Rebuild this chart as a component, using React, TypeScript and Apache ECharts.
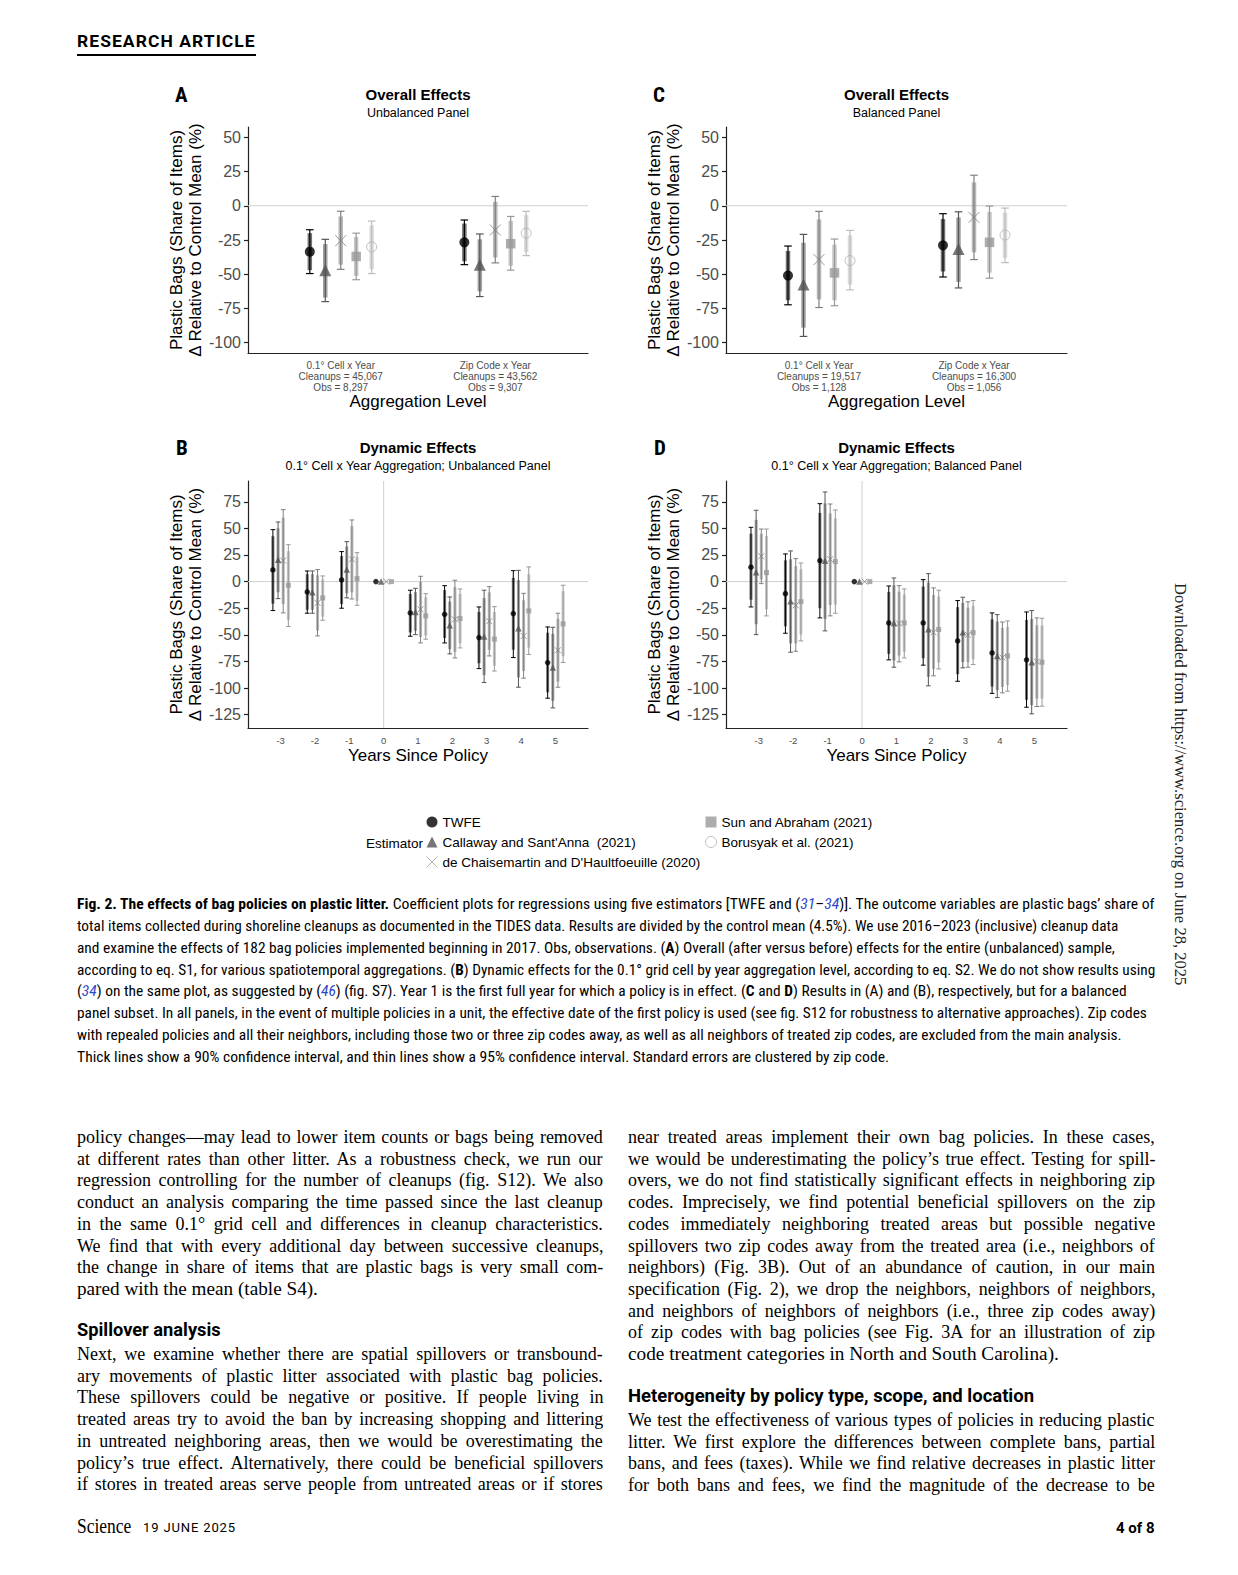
import React, { useEffect, useLayoutEffect, useRef } from 'react';
import * as echarts from 'echarts';

// ---------------- DATA ----------------
const estimatorNames = [
  'TWFE',
  "Callaway and Sant'Anna  (2021)",
  "de Chaisemartin and D'Haultfoeuille (2020)",
  'Sun and Abraham (2021)',
  'Borusyak et al. (2021)',
];
const overallCategoryPositions = [1, 2];
const panelALabels = [
  '0.1° Cell x Year\nCleanups = 45,067\nObs = 8,297',
  'Zip Code x Year\nCleanups = 43,562\nObs = 9,307',
];
const panelCLabels = [
  '0.1° Cell x Year\nCleanups = 19,517\nObs = 1,128',
  'Zip Code x Year\nCleanups = 16,300\nObs = 1,056',
];
const yearsSincePolicy = [-3, -2, -1, 0, 1, 2, 3, 4, 5];
const overallYTicks = [-100, -75, -50, -25, 0, 25, 50];
const dynamicYTicks = [-125, -100, -75, -50, -25, 0, 25, 50, 75];
const referenceZero = 0;

// rows: [estimate, lo95, hi95, lo90, hi90]
// Panel A (overall, unbalanced)
const A_TWFE = [[-33.5, -49.5, -17.5, -47, -20], [-26.7, -43, -10.4, -40.5, -13]];
const A_CS = [[-47, -70, -24.5, -67, -28], [-43, -66.3, -20.6, -62.5, -24.5]];
const A_DCDH = [[-25.5, -46.4, -4, -43, -7.8], [-17.7, -41.7, 6.8, -37.8, 2.9]];
const A_SA = [[-37, -54, -20, -51.2, -22.8], [-27.7, -47, -7.8, -43.8, -11]];
const A_BJS = [[-30, -49.5, -11.2, -46.3, -14.3], [-20, -36.4, -4.1, -33.8, -6.8]];
// Panel C (overall, balanced)
const C_TWFE = [[-51, -72.3, -29.4, -69, -33], [-28.9, -52, -5.8, -48, -9.7]];
const C_CS = [[-57.5, -95.4, -20.9, -89, -27], [-31.6, -60, -4.4, -55.6, -8.5]];
const C_DCDH = [[-39.3, -74.3, -4.1, -68.4, -10], [-8.5, -39.3, 22.3, -34, 17]];
const C_SA = [[-49, -73, -24.3, -69, -28.4], [-26.7, -52.9, -0.2, -48.8, -4.6]];
const C_BJS = [[-40, -61.4, -18, -57.5, -21.6], [-21.4, -41.5, -1.7, -38, -5]];
// Panel B (dynamic, unbalanced)
const B_TWFE = [
  [10.95, -27.2, 48.8, -20.7, 42.6], [-9.7, -29.7, 10, -26.5, 7], [1.6, -25, 28.2, -21, 24],
  [0, 0, 0, 0, 0], [-29.4, -51.3, -8.1, -47.8, -11.6], [-30.7, -57.6, -3.8, -53, -8],
  [-52.6, -81.7, -23.8, -76.7, -28.5], [-30, -71.3, 10.3, -64, 3.5], [-76, -109.5, -42.6, -104, -48],
];
const B_CS = [
  [20.6, -16, 56, -10, 50], [-10, -29.7, 10, -26.5, 7], [11.3, -15.3, 37.5, -11, 33],
  [0, 0, 0, 0, 0], [-28.5, -49.8, -6.3, -46.2, -9.8], [-41, -67.9, -14.4, -63.5, -18.8],
  [-51.6, -94.8, -8.1, -87.8, -15.5], [-43.8, -99.2, 10.6, -90, 1.4], [-80.7, -118.6, -42.9, -112, -49],
];
const B_DCDH = [
  [19.7, -29.4, 67.6, -21, 60], [-20, -51, 11.3, -46, 6], [21, -16.3, 57.9, -10, 52],
  [0, 0, 0, 0, 0], [-26, -57.6, 5, -52, -0.4], [-35.4, -71.7, 1.3, -66, -5],
  [-37.2, -69.8, -4.7, -64, -10], [-51, -90.7, -11, -84, -17.5], [-64.5, -99.2, -29.7, -94, -35],
];
const B_SA = [
  [-3.4, -42.2, 34.7, -36, 28.5], [-15.3, -36.3, 5.3, -33, 2], [2.8, -22.2, 27.2, -18, 23],
  [0, 0, 0, 0, 0], [-32.2, -54.1, -11.3, -50.6, -14.8], [-34.7, -62.3, -6.9, -57.8, -11.6],
  [-54, -84, -23.5, -79, -28.5], [-27.5, -68.5, 13.8, -62, 7], [-39.7, -76, -3.4, -70, -9],
];
// Panel D (dynamic, balanced)
const D_TWFE = [
  [13.5, -23.8, 51, -17, 45], [-11.3, -48.5, 26, -42, 20], [19.7, -34.1, 73.2, -25, 64.5],
  [0, 0, 0, 0, 0], [-38.8, -73.5, -4.1, -67.8, -9.7], [-38.8, -78.5, 1.9, -72, -4.6],
  [-55.7, -93.6, -17.8, -87, -24], [-67, -105, -29.4, -98.6, -35.5], [-73.5, -118, -28.5, -111, -36],
];
const D_CS = [
  [8.8, -49.8, 67, -40, 58], [-18.5, -66.3, 28.8, -58, 21], [19.7, -46.3, 84.2, -35, 73.5],
  [0, 0, 0, 0, 0], [-38.8, -80.4, 3.4, -74, -3.4], [-44.7, -97.9, 7.5, -89.5, -1],
  [-47.6, -81, -14.7, -75.5, -20], [-69.8, -108.9, -31, -102, -37.6], [-75.7, -124.2, -27.2, -116, -35],
];
const D_DCDH = [
  [23.8, -1.9, 49.4, 2, 45], [-22.2, -65.4, 21.6, -58, 14.5], [21, -32.2, 72.9, -22, 64],
  [0, 0, 0, 0, 0], [-39.4, -75.4, -3.8, -69.4, -9.5], [-47.6, -88.5, -5.9, -82, -12.6],
  [-50, -80.4, -19, -75.5, -24.5], [-71.3, -104.5, -37.9, -99, -43.5], [-75.1, -117.3, -34.1, -110, -41],
];
const D_SA = [
  [8.5, -32.2, 49.4, -26, 43], [-18.8, -55.7, 17.5, -49.6, 11.5], [18.8, -29.7, 67.3, -21.6, 59.3],
  [0, 0, 0, 0, 0], [-38.8, -71.7, -6.9, -66, -12], [-45, -82, -8.1, -76, -14],
  [-47.9, -77.9, -17.8, -73, -22.8], [-69.8, -102.9, -36.9, -97.3, -42.5], [-75.7, -117, -34.4, -110, -41.3],
];

// ---------------- TEXT ----------------
type Seg = [string, string?];
const captionLines: Seg[][] = [
  [['Fig. 2. The effects of bag policies on plastic litter.', 'b'], [' Coefficient plots for regressions using five estimators [TWFE and ('], ['31', 'i'], ['–'], ['34', 'i'], [')]. The outcome variables are plastic bags’ share of']],
  [['total items collected during shoreline cleanups as documented in the TIDES data. Results are divided by the control mean (4.5%). We use 2016–2023 (inclusive) cleanup data']],
  [['and examine the effects of 182 bag policies implemented beginning in 2017. Obs, observations. ('], ['A', 'b'], [') Overall (after versus before) effects for the entire (unbalanced) sample,']],
  [['according to eq. S1, for various spatiotemporal aggregations. ('], ['B', 'b'], [') Dynamic effects for the 0.1° grid cell by year aggregation level, according to eq. S2. We do not show results using']],
  [['('], ['34', 'i'], [') on the same plot, as suggested by ('], ['46', 'i'], [') (fig. S7). Year 1 is the first full year for which a policy is in effect. ('], ['C', 'b'], [' and '], ['D', 'b'], [') Results in (A) and (B), respectively, but for a balanced']],
  [['panel subset. In all panels, in the event of multiple policies in a unit, the effective date of the first policy is used (see fig. S12 for robustness to alternative approaches). Zip codes']],
  [['with repealed policies and all their neighbors, including those two or three zip codes away, as well as all neighbors of treated zip codes, are excluded from the main analysis.']],
  [['Thick lines show a 90% confidence interval, and thin lines show a 95% confidence interval. Standard errors are clustered by zip code.']],
];
const captionRightEdges = [1155, 1118, 1115, 1155, 1127, 1147, 1122, 889];

const leftColA = [
  'policy changes—may lead to lower item counts or bags being removed',
  'at different rates than other litter. As a robustness check, we run our',
  'regression controlling for the number of cleanups (fig. S12). We also',
  'conduct an analysis comparing the time passed since the last cleanup',
  'in the same 0.1° grid cell and differences in cleanup characteristics.',
  'We find that with every additional day between successive cleanups,',
  'the change in share of items that are plastic bags is very small com-',
  'pared with the mean (table S4).',
];
const leftHeading = 'Spillover analysis';
const leftColB = [
  'Next, we examine whether there are spatial spillovers or transbound-',
  'ary movements of plastic litter associated with plastic bag policies.',
  'These spillovers could be negative or positive. If people living in',
  'treated areas try to avoid the ban by increasing shopping and littering',
  'in untreated neighboring areas, then we would be overestimating the',
  'policy’s true effect. Alternatively, there could be beneficial spillovers',
  'if stores in treated areas serve people from untreated areas or if stores',
];
const rightColA = [
  'near treated areas implement their own bag policies. In these cases,',
  'we would be underestimating the policy’s true effect. Testing for spill-',
  'overs, we do not find statistically significant effects in neighboring zip',
  'codes. Imprecisely, we find potential beneficial spillovers on the zip',
  'codes immediately neighboring treated areas but possible negative',
  'spillovers two zip codes away from the treated area (i.e., neighbors of',
  'neighbors) (Fig. 3B). Out of an abundance of caution, in our main',
  'specification (Fig. 2), we drop the neighbors, neighbors of neighbors,',
  'and neighbors of neighbors of neighbors (i.e., three zip codes away)',
  'of zip codes with bag policies (see Fig. 3A for an illustration of zip',
  'code treatment categories in North and South Carolina).',
];
const rightHeading = 'Heterogeneity by policy type, scope, and location';
const rightColB = [
  'We test the effectiveness of various types of policies in reducing plastic',
  'litter. We first explore the differences between complete bans, partial',
  'bans, and fees (taxes). While we find relative decreases in plastic litter',
  'for both bans and fees, we find the magnitude of the decrease to be',
];

// ---------------- STYLE ----------------
const FONT = '"Liberation Sans", Arial, Helvetica, sans-serif';
const SERIF = '"Liberation Serif", "Times New Roman", serif';
const COND = '"Liberation Sans Narrow", "Roboto Condensed", "DejaVu Sans Condensed", Roboto, "Liberation Sans", sans-serif';
const HEAD = 'Roboto, "Liberation Sans", sans-serif';
const X_PATH = 'path://M0,0L10,10M10,0L0,10';
const estColors = ['#000000', '#555555', '#808080', '#999999', '#bdbdbd'];
const estSymbols = ['circle', 'triangle', X_PATH, 'rect', 'circle'];
const overallSizes = [10, 12, 11, 9.5, 10];
const dynamicSizes = [5.5, 6.5, 6, 5];
const overallDodge = [-0.2, -0.1, 0, 0.1, 0.2];
const dynamicDodge = [-0.225, -0.075, 0.075, 0.225];

function pointStyle(e: number) {
  if (e === 2) return { color: 'rgba(0,0,0,0)', borderColor: '#808080', borderWidth: 1 };
  if (e === 4) return { color: 'rgba(255,255,255,0)', borderColor: '#b0b0b0', borderWidth: 1 };
  return { color: estColors[e] };
}

function buildOption() {
  const panels = [
    { kind: 'overall', labels: panelALabels, data: [A_TWFE, A_CS, A_DCDH, A_SA, A_BJS] },
    { kind: 'overall', labels: panelCLabels, data: [C_TWFE, C_CS, C_DCDH, C_SA, C_BJS] },
    { kind: 'dynamic', labels: null, data: [B_TWFE, B_CS, B_DCDH, B_SA] },
    { kind: 'dynamic', labels: null, data: [D_TWFE, D_CS, D_DCDH, D_SA] },
  ];
  const grids = [
    { left: 248, top: 127, width: 340, height: 226 },
    { left: 726, top: 127, width: 341, height: 226 },
    { left: 248, top: 481, width: 340, height: 247 },
    { left: 726, top: 481, width: 341, height: 247 },
  ];
  const axisLine = { show: true, onZero: false, lineStyle: { color: '#222', width: 1.2 } };
  const xAxis: any[] = [];
  const yAxis: any[] = [];
  const series: any[] = [];
  panels.forEach((p, pi) => {
    const overall = p.kind === 'overall';
    xAxis.push({
      type: 'value', gridIndex: pi,
      min: overall ? 0.4 : -3.95, max: overall ? 2.6 : 5.95,
      axisLine, axisTick: { show: false }, splitLine: { show: false },
      axisLabel: {
        customValues: overall ? overallCategoryPositions : yearsSincePolicy,
        formatter: (v: number) => overall ? p.labels![overallCategoryPositions.indexOf(Math.round(v))] : String(v),
        fontSize: overall ? 10 : 9.5, lineHeight: 11, color: '#4d4d4d', fontFamily: FONT,
        margin: overall ? 6.5 : 7,
      },
      name: overall ? 'Aggregation Level' : 'Years Since Policy',
      nameLocation: 'middle', nameGap: overall ? 40 : 19,
      nameTextStyle: { fontSize: 17, color: '#000', fontFamily: FONT },
    });
    const ticks = overall ? overallYTicks : dynamicYTicks;
    yAxis.push({
      type: 'value', gridIndex: pi,
      min: overall ? -107.5 : -137.5, max: overall ? 57.5 : 94.5,
      axisLine, splitLine: { show: false },
      axisTick: { show: true, customValues: ticks, length: 4, lineStyle: { color: '#222', width: 1.2 } },
      axisLabel: { customValues: ticks, fontSize: 16, color: '#4d4d4d', fontFamily: FONT, margin: 7 },
      name: 'Plastic Bags (Share of Items)\nΔ Relative to Control Mean (%)',
      nameLocation: 'middle', nameRotate: 90, nameGap: 39,
      nameTextStyle: { fontSize: 17, color: '#000', fontFamily: FONT, lineHeight: 19 },
    });
    // reference lines
    series.push({
      type: 'custom', name: 'ref' + pi, xAxisIndex: pi, yAxisIndex: pi, silent: true, z: 1,
      data: [[overall ? 1 : referenceZero, referenceZero]],
      renderItem: (params: any, api: any) => {
        const cs = params.coordSys;
        const pt = api.coord([api.value(0), api.value(1)]);
        const children: any[] = [
          { type: 'line', shape: { x1: cs.x, y1: pt[1], x2: cs.x + cs.width, y2: pt[1] }, style: { stroke: '#cfcfcf', lineWidth: 1 } },
        ];
        if (!overall) children.push({ type: 'line', shape: { x1: pt[0], y1: cs.y, x2: pt[0], y2: cs.y + cs.height }, style: { stroke: '#cfcfcf', lineWidth: 1 } });
        return { type: 'group', children };
      },
    });
    const xs = overall ? overallCategoryPositions : yearsSincePolicy;
    const dodge = overall ? overallDodge : dynamicDodge;
    const cap = overall ? 3.8 : 2.3;
    const thinW = overall ? 1.2 : 1;
    const thickW = overall ? 4.5 : 3;
    p.data.forEach((rows: number[][], e: number) => {
      const color = estColors[e];
      series.push({
        type: 'custom', name: 'ci' + pi + '_' + e, xAxisIndex: pi, yAxisIndex: pi, silent: true, z: 3,
        data: rows.map((r, i) => [xs[i] + dodge[e], r[0], r[1], r[2], r[3], r[4]]),
        renderItem: (params: any, api: any) => {
          const x = api.value(0);
          const lo95 = api.value(2), hi95 = api.value(3), lo90 = api.value(4), hi90 = api.value(5);
          if (lo95 === hi95) return { type: 'group', children: [] };
          const a = api.coord([x, hi95]);
          const b = api.coord([x, lo95]);
          const c = api.coord([x, hi90]);
          const d = api.coord([x, lo90]);
          const thin = { stroke: color, lineWidth: thinW };
          return {
            type: 'group',
            children: [
              { type: 'line', shape: { x1: c[0], y1: c[1], x2: d[0], y2: d[1] }, style: { stroke: color, lineWidth: thickW, opacity: 0.55 } },
              { type: 'line', shape: { x1: a[0], y1: a[1], x2: b[0], y2: b[1] }, style: thin },
              { type: 'line', shape: { x1: a[0] - cap, y1: a[1], x2: a[0] + cap, y2: a[1] }, style: thin },
              { type: 'line', shape: { x1: b[0] - cap, y1: b[1], x2: b[0] + cap, y2: b[1] }, style: thin },
            ],
          };
        },
      });
      series.push({
        type: 'scatter', name: estimatorNames[e], xAxisIndex: pi, yAxisIndex: pi, silent: true, z: 5,
        symbol: estSymbols[e], symbolSize: (overall ? overallSizes : dynamicSizes)[e],
        itemStyle: pointStyle(e),
        data: rows.map((r, i) => [xs[i] + dodge[e], r[0]]),
      });
    });
  });

  const t = (x: number, y: number, text: string, font: string, align = 'center') => ({
    type: 'text', x, y, silent: true,
    style: { text, font, fill: '#000', align, verticalAlign: 'middle' },
  });
  const letterFont = 'bold 21px ' + COND;
  const graphic = [
    t(175, 95, 'A', letterFont, 'left'),
    t(653, 95, 'C', letterFont, 'left'),
    t(176, 448, 'B', letterFont, 'left'),
    t(654, 448, 'D', letterFont, 'left'),
    t(418, 94, 'Overall Effects', 'bold 15px ' + FONT),
    t(418, 112.7, 'Unbalanced Panel', '12.5px ' + FONT),
    t(896.5, 94, 'Overall Effects', 'bold 15px ' + FONT),
    t(896.5, 112.7, 'Balanced Panel', '12.5px ' + FONT),
    t(418, 447, 'Dynamic Effects', 'bold 15px ' + FONT),
    t(418, 465.7, '0.1° Cell x Year Aggregation; Unbalanced Panel', '12.5px ' + FONT),
    t(896.5, 447, 'Dynamic Effects', 'bold 15px ' + FONT),
    t(896.5, 465.7, '0.1° Cell x Year Aggregation; Balanced Panel', '12.5px ' + FONT),
    t(366, 843, 'Estimator', '13.5px ' + FONT, 'left'),
  ];

  const legendBase = {
    orient: 'vertical', top: 815, itemWidth: 11, itemHeight: 11, itemGap: 6, padding: 0,
    selectedMode: false, textStyle: { fontSize: 13.5, color: '#000', fontFamily: FONT },
  };
  const legend = [
    {
      ...legendBase, left: 426,
      data: [
        { name: estimatorNames[0], icon: 'circle', itemStyle: { color: '#000' } },
        { name: estimatorNames[1], icon: 'triangle', itemStyle: { color: '#555555' } },
        { name: estimatorNames[2], icon: X_PATH, itemStyle: { color: 'rgba(0,0,0,0)', borderColor: '#a0a0a0', borderWidth: 1 } },
      ],
    },
    {
      ...legendBase, left: 705,
      data: [
        { name: estimatorNames[3], icon: 'rect', itemStyle: { color: '#999999' } },
        { name: estimatorNames[4], icon: 'circle', itemStyle: { color: 'rgba(255,255,255,0)', borderColor: '#b0b0b0', borderWidth: 1 } },
      ],
    },
  ];

  return {
    animation: false,
    backgroundColor: 'transparent',
    textStyle: { fontFamily: FONT },
    grid: grids,
    xAxis, yAxis, series, graphic, legend,
  };
}

// ---------------- HTML TEXT ----------------
function FitText(props: any) {
  const { x, y, w, size, family, weight = 'normal', justify = false, color = '#000', lh = 22, letterSpacing = 0, children } = props;
  const ref = useRef<HTMLSpanElement>(null);
  useLayoutEffect(() => {
    const el = ref.current;
    if (!el) return;
    const fit = () => {
      el.style.wordSpacing = '0px';
      el.style.transform = 'none';
      const nat = el.offsetWidth;
      if (!nat) return;
      const spaces = (el.textContent || '').split(' ').length - 1;
      if (justify && nat <= w && spaces > 0) {
        el.style.wordSpacing = (w - nat) / spaces + 'px';
      } else {
        el.style.transform = `scaleX(${w / nat})`;
      }
    };
    fit();
    const f = (document as any).fonts;
    if (f && f.ready) f.ready.then(fit);
  }, []);
  return (
    <div style={{ position: 'absolute', left: x, top: y - lh / 2, height: lh, lineHeight: lh + 'px', whiteSpace: 'nowrap', fontSize: size, fontFamily: family, fontWeight: weight, color, letterSpacing }}>
      <span ref={ref} style={{ display: 'inline-block', transformOrigin: '0 50%' }}>{children}</span>
    </div>
  );
}

function renderSegs(segs: Seg[]) {
  return segs.map((s, i) => {
    if (s[1] === 'b') return <b key={i}>{s[0]}</b>;
    if (s[1] === 'i') return <i key={i} style={{ color: '#2f47c9' }}>{s[0]}</i>;
    return <React.Fragment key={i}>{s[0]}</React.Fragment>;
  });
}

function Column({ x, w, lines, y0, step, lastW }: any) {
  return (
    <>
      {lines.map((ln: string, i: number) => {
        const last = lastW != null && i === lines.length - 1;
        return (
          <FitText key={i} x={x} y={y0 + i * step + 1} w={last ? lastW : w} size={18} family={SERIF} justify={!last}>
            {ln}
          </FitText>
        );
      })}
    </>
  );
}

export default function App() {
  const chartRef = useRef<HTMLDivElement>(null);
  useEffect(() => {
    if (!chartRef.current) return;
    const chart = echarts.init(chartRef.current, null, { renderer: 'svg' });
    chart.setOption(buildOption() as any);
    return () => chart.dispose();
  }, []);

  const step = 21.7;
  return (
    <div style={{ position: 'absolute', left: 0, top: 0, width: 1238, height: 1575, background: '#fff', overflow: 'hidden' }}>
      {/* header */}
      <FitText x={77} y={42} w={179} size={16.5} family={HEAD} weight={700} letterSpacing={1}>RESEARCH ARTICLE</FitText>
      <div style={{ position: 'absolute', left: 77, top: 54, width: 179, height: 1.5, background: '#000' }} />

      {/* figure */}
      <div ref={chartRef} style={{ position: 'absolute', left: 0, top: 0, width: 1238, height: 880 }} />

      {/* caption */}
      {captionLines.map((segs, i) => (
        <FitText key={'c' + i} x={77} y={905 + i * 21.86} w={captionRightEdges[i] - 77} size={14.5} family={COND}>
          {renderSegs(segs)}
        </FitText>
      ))}

      {/* body left */}
      <Column x={77} w={526} lines={leftColA} y0={1136} step={step} lastW={241} />
      <FitText x={77} y={1330} w={144} size={19} family={HEAD} weight={700}>{leftHeading}</FitText>
      <Column x={77} w={526} lines={leftColB} y0={1353} step={step} lastW={null} />

      {/* body right */}
      <Column x={628} w={527} lines={rightColA} y0={1136} step={step} lastW={431} />
      <FitText x={628} y={1396} w={406} size={19} family={HEAD} weight={700}>{rightHeading}</FitText>
      <Column x={628} w={527} lines={rightColB} y0={1419} step={step} lastW={null} />

      {/* footer */}
      <FitText x={77} y={1526} w={54} size={21} family={SERIF}>Science</FitText>
      <FitText x={143} y={1528} w={93} size={12.5} family={HEAD} letterSpacing={0.8}>19 JUNE 2025</FitText>
      <FitText x={1116} y={1528} w={39} size={15} family={HEAD} weight={700}>4 of 8</FitText>

      {/* vertical download note */}
      <div style={{ position: 'absolute', left: 1189, top: 583, width: 402, height: 20, transform: 'rotate(90deg)', transformOrigin: '0 0' }}>
        <FitText x={0} y={9} w={402} size={16} family={SERIF} color="#222">Downloaded from https://www.science.org on June 28, 2025</FitText>
      </div>
    </div>
  );
}
